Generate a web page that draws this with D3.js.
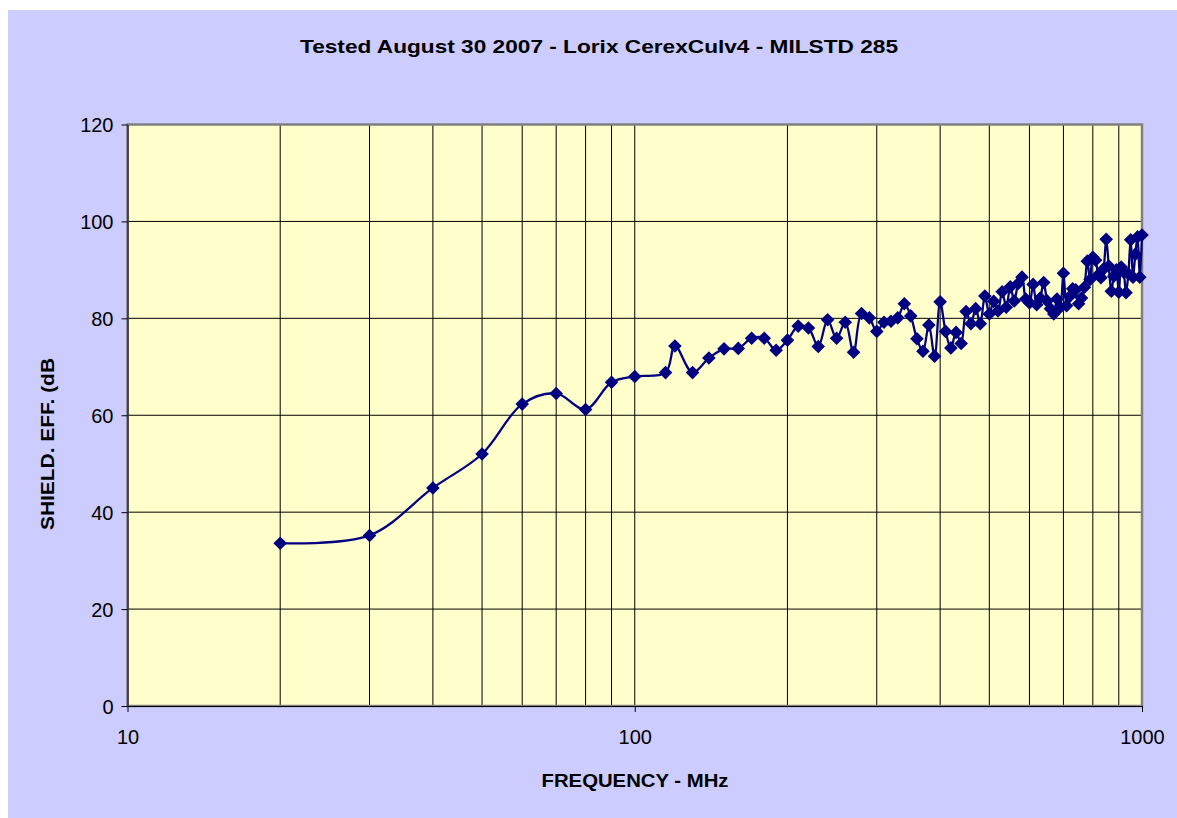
<!DOCTYPE html>
<html>
<head>
<meta charset="utf-8">
<script src="https://cdn.jsdelivr.net/npm/d3@7"></script>
<style>
  body { margin: 0; background: #fff; }
  svg { display: block; font-family: "Liberation Sans", Arial, sans-serif; }
</style>
</head>
<body>
<svg id="chart" width="1177" height="818"></svg>
<script>
const title = 'Tested August 30 2007 - Lorix CerexCulv4 - MILSTD 285';
const xTitle = 'FREQUENCY - MHz';
const yTitle = 'SHIELD. EFF. (dB';

// measured frequencies (MHz) and shielding effectiveness (dB)
const freqs = [20, 30, 40, 50, 60, 70, 80, 90, 100, 115, 120, 130, 140, 150, 160, 170, 180, 190,
  200, 210, 220, 230, 240, 250, 260, 270, 280, 290,
  300, 310, 320, 330, 340, 350, 360, 370, 380, 390,
  400, 410, 420, 430, 440, 450, 460, 470, 480, 490,
  500, 510, 520, 530, 540, 550, 560, 570, 580, 590,
  600, 610, 620, 630, 640, 650, 660, 670, 680, 690,
  700, 710, 720, 730, 740, 750, 760, 770, 780, 790,
  800, 810, 820, 830, 840, 850, 860, 870, 880, 890,
  900, 910, 920, 930, 940, 950, 960, 970, 980, 990, 1000];
const shield = [33.6, 35.2, 45.0, 52.0, 62.3, 64.5, 61.2, 66.8, 68.0, 68.8, 74.3, 68.8, 71.8, 73.7, 73.8, 75.9, 75.9, 73.4,
  75.5, 78.4, 78.0, 74.2, 79.7, 75.9, 79.2, 73.0, 81.0, 80.1,
  77.3, 79.2, 79.4, 80.1, 83.0, 80.5, 75.8, 73.2, 78.6, 72.2,
  83.4, 77.3, 73.9, 77.1, 74.8, 81.4, 78.9, 82.0, 78.9, 84.6,
  80.9, 83.5, 81.5, 85.5, 82.3, 86.5, 83.6, 87.2, 88.5, 84.0,
  83.2, 87.0, 82.8, 84.2, 87.4, 83.6, 82.0, 80.9, 84.0, 82.3,
  89.3, 82.6, 84.5, 86.1, 85.9, 83.0, 84.2, 86.4, 91.8, 88.0,
  92.6, 92.0, 89.0, 88.4, 90.2, 96.3, 90.8, 85.6, 88.7, 90.0,
  85.4, 90.6, 89.5, 85.3, 89.2, 96.2, 88.5, 93.2, 96.8, 88.5, 97.2];

const xDomain = [10, 1000];
const yDomain = [0, 120];
const yTicks = [0, 20, 40, 60, 80, 100, 120];
const xMajor = [10, 100, 1000];
const xMinor = [20, 30, 40, 50, 60, 70, 80, 90, 200, 300, 400, 500, 600, 700, 800, 900];

const svg = d3.select('#chart');
const plot = { left: 127.5, right: 1142, top: 124.5, bottom: 706 };

const x = d3.scaleLog().domain(xDomain).range([plot.left, plot.right]);
const y = d3.scaleLinear().domain(yDomain).range([plot.bottom, plot.top]);

// chart background
svg.append('rect')
  .attr('x', 8).attr('y', 10).attr('width', 1169).attr('height', 808)
  .attr('fill', '#CCCCFF');

svg.append('rect')
  .attr('x', plot.left).attr('y', plot.top)
  .attr('width', plot.right - plot.left).attr('height', plot.bottom - plot.top)
  .attr('fill', '#FFFFCC');

// gridlines
const grid = svg.append('g').attr('stroke', '#000').attr('stroke-width', 1);
grid.selectAll('line.v')
  .data(xMinor.concat([100]))
  .join('line')
  .attr('class', 'v')
  .attr('x1', d => x(d)).attr('x2', d => x(d))
  .attr('y1', plot.top).attr('y2', plot.bottom);
grid.selectAll('line.h')
  .data(yTicks.slice(1, -1))
  .join('line')
  .attr('class', 'h')
  .attr('x1', plot.left).attr('x2', plot.right)
  .attr('y1', d => y(d)).attr('y2', d => y(d));

// plot border
svg.append('rect')
  .attr('x', plot.left).attr('y', plot.top)
  .attr('width', plot.right - plot.left).attr('height', plot.bottom - plot.top)
  .attr('fill', 'none').attr('stroke', '#808080').attr('stroke-width', 2.5);

// axes
const yAxis = svg.append('g')
  .attr('transform', `translate(${plot.left},0)`)
  .call(d3.axisLeft(y).tickValues(yTicks).tickSize(6).tickPadding(8).tickSizeOuter(0));
const xAxis = svg.append('g')
  .attr('transform', `translate(0,${plot.bottom})`)
  .call(d3.axisBottom(x).tickValues(xMajor).tickFormat(d3.format('d')).tickSize(6).tickPadding(18).tickSizeOuter(0));

[xAxis, yAxis].forEach(a => {
  a.select('.domain').attr('stroke', '#000');
  a.selectAll('.tick line').attr('stroke', '#000');
  a.selectAll('.tick text')
    .attr('fill', '#000')
    .style('font-family', '"Liberation Sans", Arial, sans-serif')
    .style('font-size', '20px');
});
yAxis.selectAll('.tick text').attr('dy', '0.36em');

// series
const points = freqs.map((f, i) => ({ f: f, v: shield[i] }));
const line = d3.line()
  .x(d => x(d.f))
  .y(d => y(d.v))
  .curve(d3.curveCatmullRom.alpha(0.5));

svg.append('path')
  .datum(points)
  .attr('d', line)
  .attr('fill', 'none')
  .attr('stroke', '#000080')
  .attr('stroke-width', 2.3);

const r = 6.8;
svg.append('g').selectAll('path')
  .data(points)
  .join('path')
  .attr('transform', d => `translate(${x(d.f)},${y(d.v)})`)
  .attr('d', `M0,${-r}L${r},0L0,${r}L${-r},0Z`)
  .attr('fill', '#000080');

// titles
svg.append('text')
  .attr('x', 599).attr('y', 53)
  .attr('text-anchor', 'middle')
  .attr('textLength', 598).attr('lengthAdjust', 'spacingAndGlyphs')
  .style('font-size', '19px').style('font-weight', 'bold')
  .text(title);

svg.append('text')
  .attr('x', 635).attr('y', 787)
  .attr('text-anchor', 'middle')
  .attr('textLength', 187).attr('lengthAdjust', 'spacingAndGlyphs')
  .style('font-size', '19px').style('font-weight', 'bold')
  .text(xTitle);

svg.append('text')
  .attr('transform', 'translate(54,444) rotate(-90)')
  .attr('text-anchor', 'middle')
  .attr('textLength', 172).attr('lengthAdjust', 'spacingAndGlyphs')
  .style('font-size', '19px').style('font-weight', 'bold')
  .text(yTitle);
</script>
</body>
</html>
